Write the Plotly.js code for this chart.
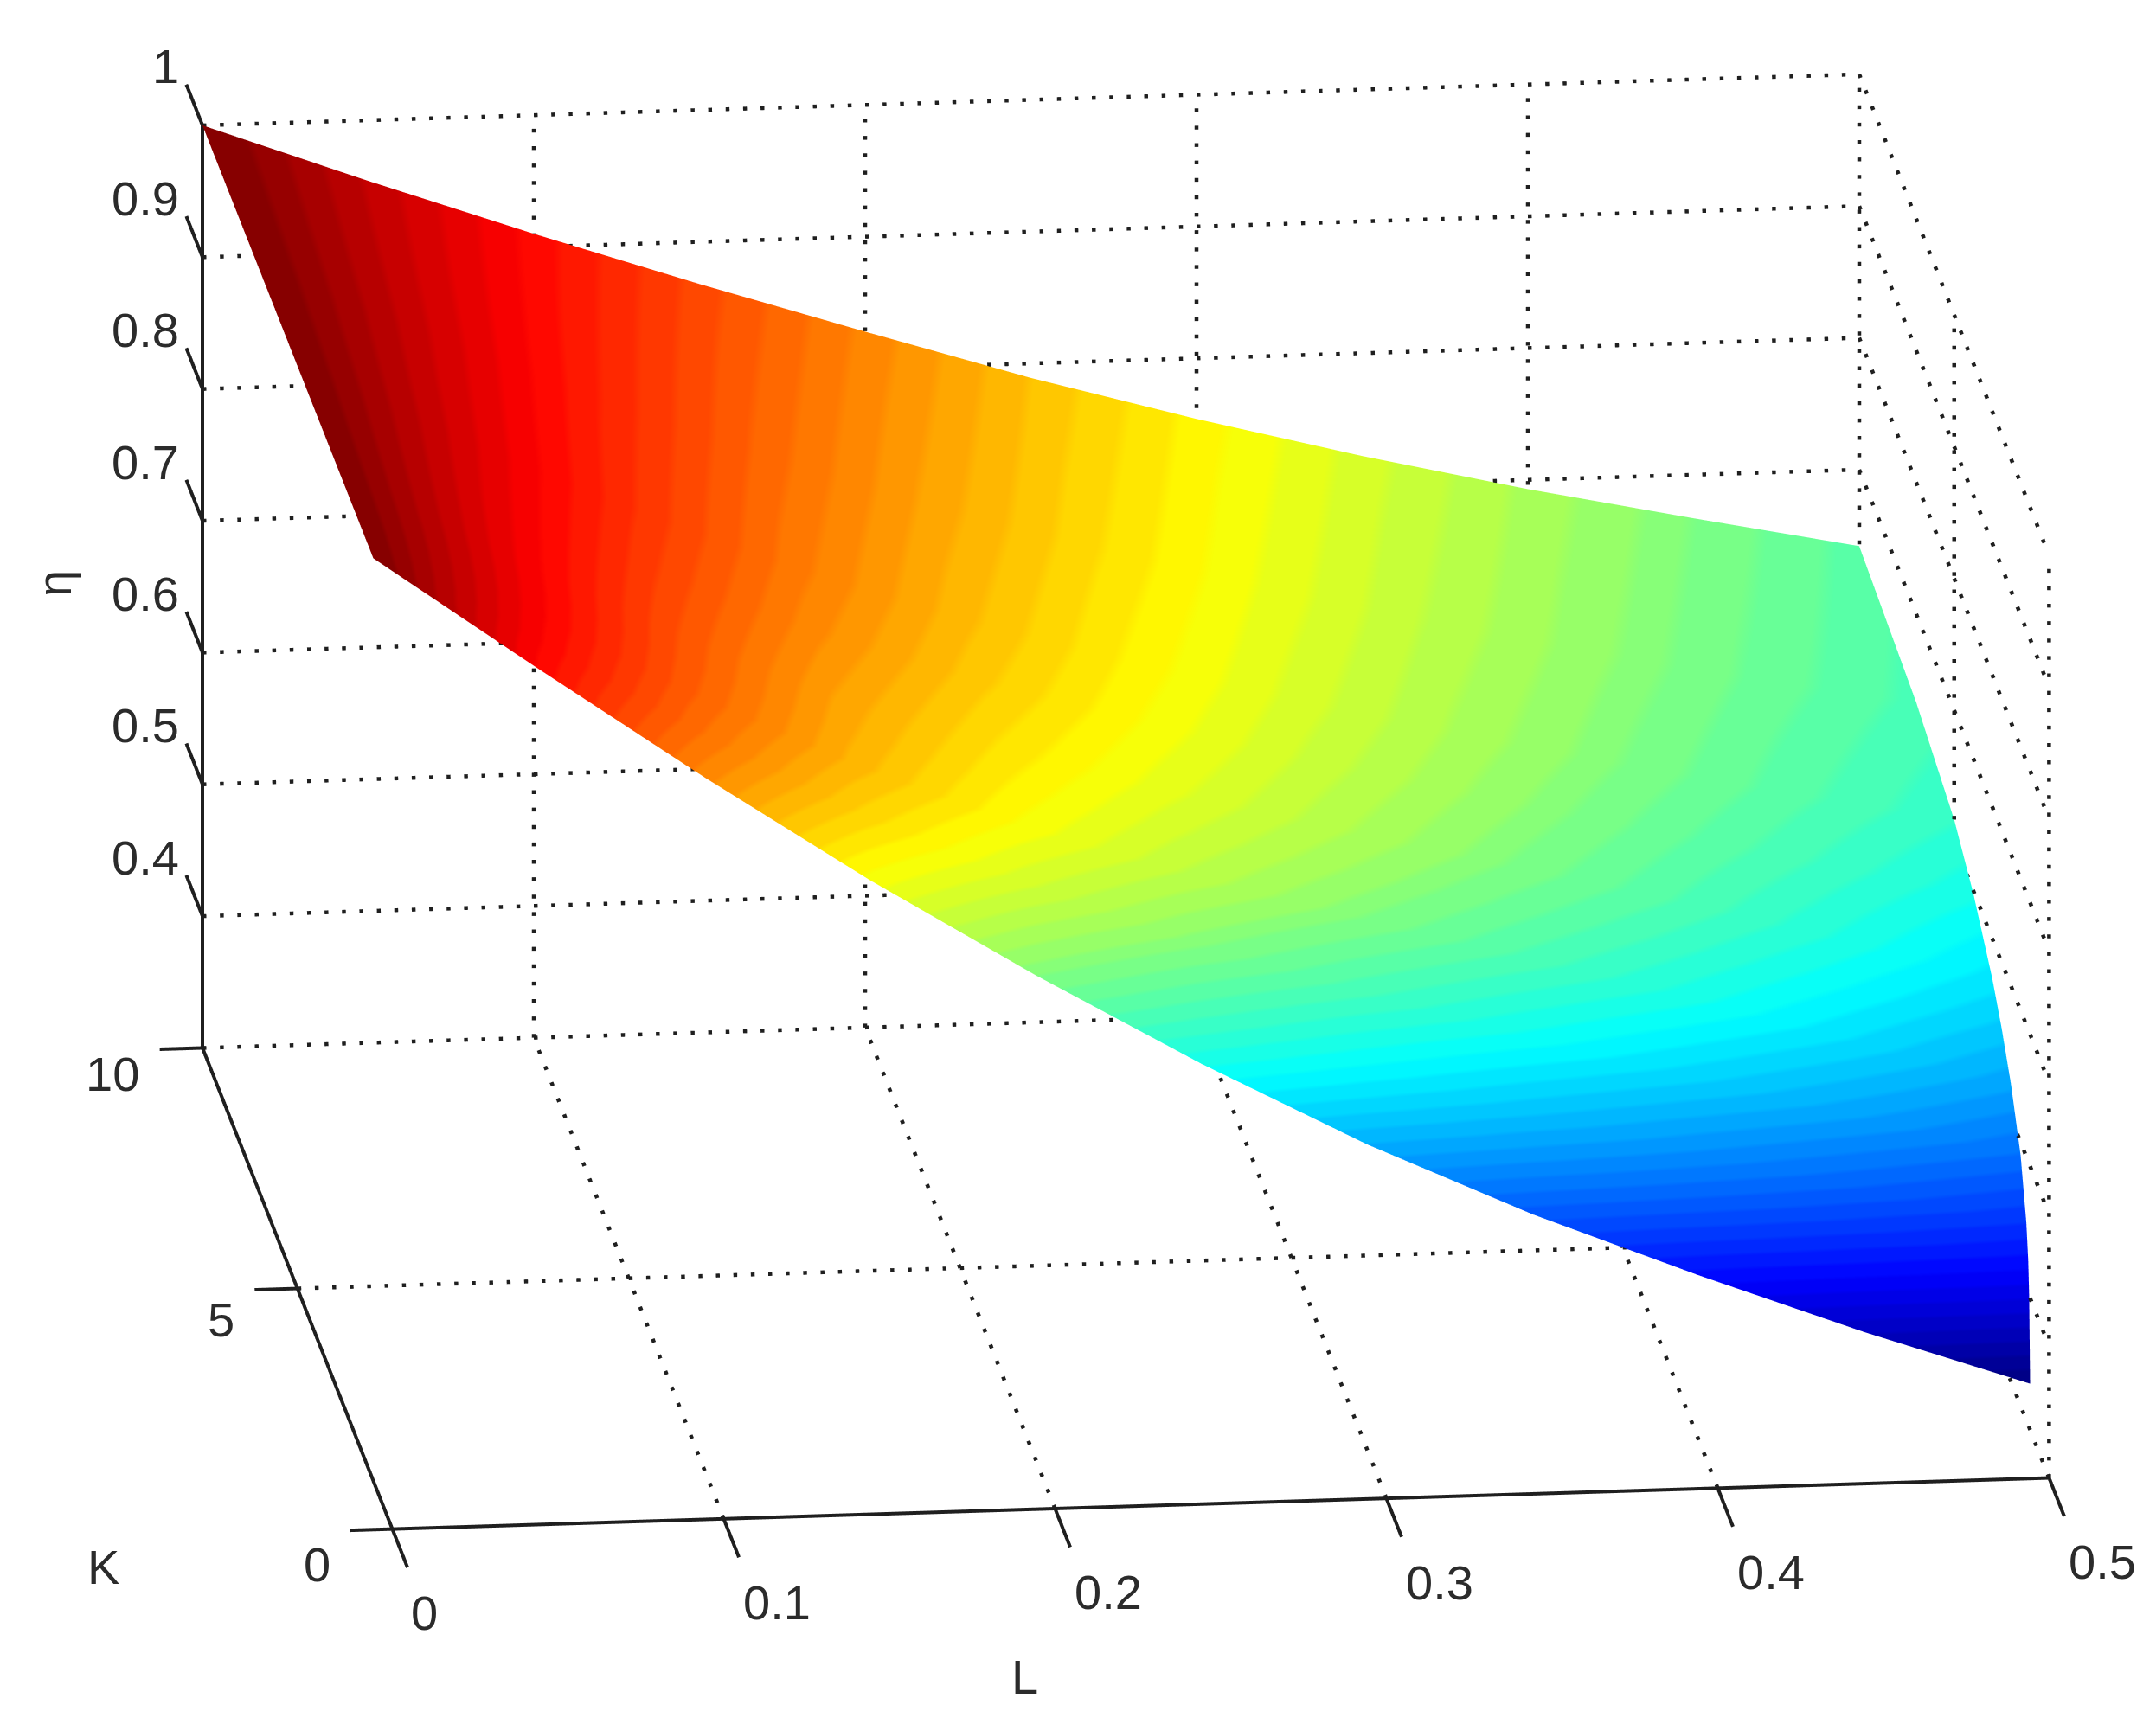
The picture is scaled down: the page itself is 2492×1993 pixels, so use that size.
<!DOCTYPE html>
<html><head><meta charset="utf-8"><script src="https://cdn.plot.ly/plotly-3.0.1.min.js"></script>
<style>html,body{margin:0;padding:0;background:#fff}#g{width:2492px;height:1993px;filter:blur(0.7px)}</style></head>
<body><div id="g"></div>
<script>
const L_values=[0,0.05,0.1,0.15,0.2,0.25,0.3,0.35,0.4,0.45,0.5];
const K_values=[1,1.05,1.1,1.2,1.5,2,2.5,3,4,5,7,10];
const eta_K1=[1,.912,.826,.744,.668,.597,.532,.475,.425,.378,.335];
const eta_K105=[1,.913,.827,.747,.674,.608,.549,.50,.46,.428,.40];
const eta_K11=[1,.914,.829,.75,.68,.618,.564,.519,.484,.453,.425];
const eta_K12=[1,.915,.833,.757,.69,.633,.585,.545,.511,.48,.45];
const eta_K15=[1,.92,.845,.777,.72,.671,.63,.593,.558,.524,.49];
const eta_K2=[1,.925,.856,.797,.747,.706,.67,.636,.602,.565,.525];
const eta_K25=[1,.928,.862,.804,.758,.72,.687,.654,.622,.587,.55];
const eta_K3=[1,.93,.866,.81,.767,.732,.70,.669,.639,.606,.57];
const eta_K4=[1,.935,.876,.825,.783,.747,.714,.684,.655,.627,.598];
const eta_K5=[1,.94,.885,.836,.794,.757,.724,.694,.667,.641,.617];
const eta_K7=[1,.947,.896,.85,.809,.772,.738,.707,.68,.655,.633];
const eta_K10=[1,.954,.91,.868,.828,.789,.754,.722,.693,.667,.642];
const eta_rows=[eta_K1,eta_K105,eta_K11,eta_K12,eta_K15,eta_K2,eta_K25,eta_K3,eta_K4,eta_K5,eta_K7,eta_K10];

const L_ticks=[0,0.1,0.2,0.3,0.4,0.5];
const K_ticks=[0,5,10];
const eta_ticks=[0.4,0.5,0.6,0.7,0.8,0.9,1];
const floor_eta=0.3;

function jet(t){const c=v=>Math.round(255*Math.max(0,Math.min(1,v)));
  return `rgb(${c(1.5-Math.abs(4*t-3))},${c(1.5-Math.abs(4*t-2))},${c(1.5-Math.abs(4*t-1))})`;}
const jetScale=[];for(let i=0;i<64;i++){const col=jet((i+.5)/64);jetScale.push([i/64,col],[(i+1)/64,col]);}

function seg(pts,width){return {type:'scatter3d',mode:'lines',hoverinfo:'skip',showlegend:false,
  x:pts.map(p=>p[0]),y:pts.map(p=>p[1]),z:pts.map(p=>p[2]),line:{color:'#1f1f1f',width:width}};}
// dotted style: one short dash every 20 screen px (as data-space steps along each axis)
const dotStep=[.00524,.334,.0131];
function dotted(a,b,out){const ax=a[0]!==b[0]?0:a[1]!==b[1]?1:2;const len=Math.abs(b[ax]-a[ax]);const n=Math.round(len/dotStep[ax]);
  for(let i=0;i<=n;i++){const t0=i/n,t1=Math.min(1,(i+.22)/n);
    const p=t=>a.map((v,j)=>v+(b[j]-v)*t);out.push(p(t0),p(t1),[null,null,null]);}}
const Lmax=.5,Kmax=10,Zmax=1,Z0=floor_eta;
const gridPts=[];
L_ticks.forEach(l=>{if(l>0){dotted([l,0,Z0],[l,Kmax,Z0],gridPts);dotted([l,Kmax,Z0],[l,Kmax,Zmax],gridPts);}});
K_ticks.forEach(k=>{if(k>0)dotted([0,k,Z0],[Lmax,k,Z0],gridPts);dotted([Lmax,k,Z0],[Lmax,k,Zmax],gridPts);});
eta_ticks.forEach(z=>{dotted([0,Kmax,z],[Lmax,Kmax,z],gridPts);dotted([Lmax,Kmax,z],[Lmax,0,z],gridPts);});
const solid=[[[0,0,Z0],[Lmax,0,Z0]],[[0,0,Z0],[0,Kmax,Z0]],[[0,Kmax,Z0],[0,Kmax,Zmax]]];
L_ticks.forEach(l=>solid.push([[l,0,Z0],[l,-.8,Z0]]));
K_ticks.forEach(k=>solid.push([[0,k,Z0],[-.0129,k,Z0]]));
eta_ticks.forEach(z=>solid.push([[0,Kmax,z],[0,Kmax+.85,z]]));

const traces=[{type:'surface',x:L_values,y:K_values,z:eta_rows,surfacecolor:eta_rows,cmin:.335,cmax:1,colorscale:jetScale,showscale:false,
  lighting:{ambient:1,diffuse:0,specular:0,fresnel:0,roughness:1},hoverinfo:'skip',contours:{x:{highlight:false},y:{highlight:false},z:{highlight:false}}}];
traces.push(seg(gridPts,9));
solid.forEach(g=>traces.push(seg(g,8)));

const F=56, tc='#2b2b2b';
const ann=[];
eta_ticks.forEach(z=>ann.push({x:0,y:Kmax,z:z,text:String(z),showarrow:false,xanchor:'right',yanchor:'middle',xshift:-25,yshift:68,font:{size:F,color:tc}}));
[[0,-69,-41],[5,-71,-36],[10,-71,-30]].forEach(a=>ann.push({x:0,y:a[0],z:Z0,text:String(a[0]),showarrow:false,xanchor:'right',yanchor:'middle',xshift:a[1],yshift:a[2],font:{size:F,color:tc}}));
L_ticks.forEach(l=>ann.push({x:l,y:0,z:Z0,text:String(l),showarrow:false,xanchor:'center',yanchor:'middle',xshift:l===0?37:62,yshift:-97,font:{size:F,color:tc}}));

Plotly.newPlot('g',traces,{
 width:2492,height:1993,margin:{l:0,r:0,t:0,b:0},paper_bgcolor:'#fff',showlegend:false,
 scene:{domain:{x:[0,1],y:[0,1]},bgcolor:'#fff',aspectmode:'manual',aspectratio:{x:2.32,y:2.51,z:1.274},
  xaxis:{visible:false,range:[-.05,.55]},yaxis:{visible:false,range:[-1,11.5]},zaxis:{visible:false,range:[.25,1.05]},
  camera:{projection:{type:'orthographic'},up:{x:0,y:0,z:1},center:{x:-.0522,y:-.0179,z:-.0806},eye:{x:-.368,y:-2.880,z:.758}},
  annotations:ann},
 annotations:[
  {xref:'paper',yref:'paper',x:1184/2492,y:1-1938/1993,xanchor:'center',yanchor:'middle',text:'L',showarrow:false,font:{size:F,color:tc}},
  {xref:'paper',yref:'paper',x:119/2492,y:1-1811/1993,xanchor:'center',yanchor:'middle',text:'K',showarrow:false,font:{size:F,color:tc}},
  {xref:'paper',yref:'paper',x:62/2492,y:1-675/1993,xanchor:'center',yanchor:'middle',text:'η',textangle:-90,showarrow:false,font:{size:F,color:tc}}
 ],
 font:{family:'"Liberation Sans",Arial,sans-serif'}
},{displayModeBar:false});
</script></body></html>
